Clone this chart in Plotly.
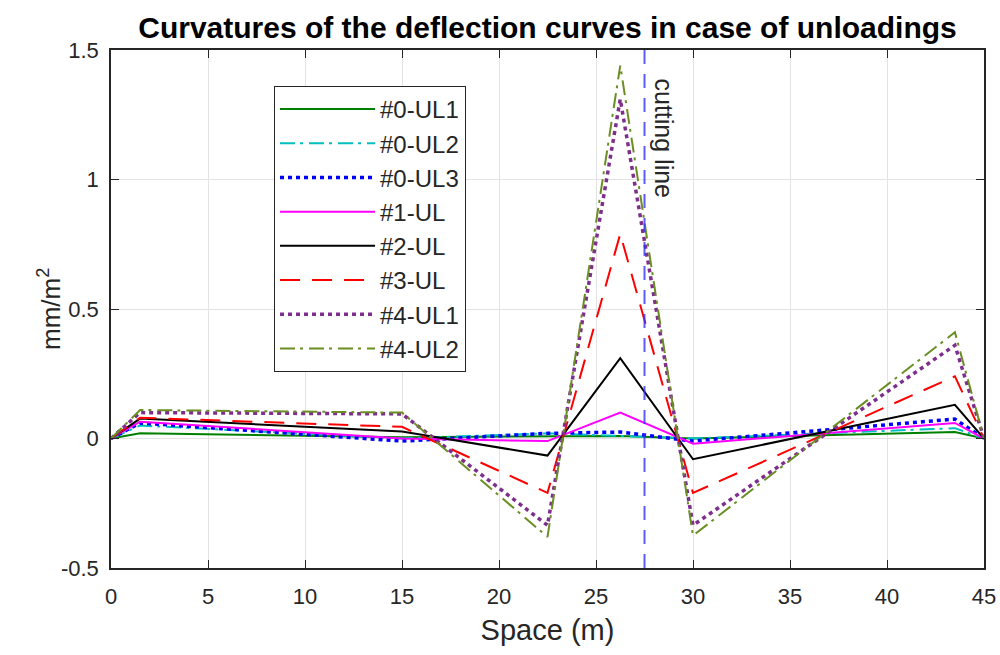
import plotly.graph_objects as go

# Positions along the span (m)
space = [0, 1.5, 15, 22.5, 26.25, 30, 43.5, 45]

# Curvatures (mm/m^2) for each unloading case
ul0_1 = [0, 0.02, 0.005, 0.01, 0.01, 0.0, 0.025, 0]
ul0_2 = [0, 0.05, 0.0, 0.02, 0.01, 0.0, 0.04, 0]
ul0_3 = [0, 0.06, -0.01, 0.02, 0.025, -0.01, 0.075, 0]
ul1 = [0, 0.065, 0.0, -0.01, 0.1, -0.02, 0.06, 0]
ul2 = [0, 0.077, 0.027, -0.066, 0.31, -0.08, 0.13, 0]
ul3 = [0, 0.08, 0.045, -0.21, 0.79, -0.21, 0.24, 0]
ul4_1 = [0, 0.1, 0.095, -0.335, 1.31, -0.335, 0.36, 0]
ul4_2 = [0, 0.11, 0.1, -0.38, 1.44, -0.375, 0.41, 0]

cut_x = 27.5

x_ticks = [0, 5, 10, 15, 20, 25, 30, 35, 40, 45]
y_ticks = [-0.5, 0, 0.5, 1, 1.5]
y_tick_text = ["-0.5", "0", "0.5", "1", "1.5"]

FONT = "Liberation Sans, Arial"
INK = "#262626"

series = [
    ("#0-UL1", ul0_1, "#008000", "solid", 2),
    ("#0-UL2", ul0_2, "#00bfbf", "15px,5px,3px,6px", 2),
    ("#0-UL3", ul0_3, "#0000ff", "4px,4px", 3.5),
    ("#1-UL", ul1, "#ff00ff", "solid", 2),
    ("#2-UL", ul2, "#000000", "solid", 2),
    ("#3-UL", ul3, "#ff0000", "20px,12px", 2),
    ("#4-UL1", ul4_1, "#7e2f8e", "4px,4px", 3.5),
    ("#4-UL2", ul4_2, "#6b8e23", "15px,5px,3px,6px", 2),
]

fig = go.Figure()
for name, vals, color, dash, width in series:
    fig.add_trace(go.Scatter(
        x=space, y=vals, mode="lines", name=name, legendgroup=name,
        line=dict(color=color, dash=dash, width=width),
    ))

# Vertical cutting line
fig.add_shape(type="line", x0=cut_x, x1=cut_x, y0=-0.5, y1=1.5,
              xref="x", yref="y",
              line=dict(color="rgba(50,50,255,0.8)", width=2, dash="14px,10px"))
fig.add_annotation(x=cut_x, y=1.5, xref="x", yref="y", text="cutting line",
                   textangle=90, showarrow=False, xanchor="left", yanchor="top",
                   xshift=3, yshift=-26,
                   font=dict(family=FONT, size=25, color=INK))

# Y-axis title placed close to the tick labels
fig.add_annotation(x=-0.071, y=0.5, xref="paper", yref="paper",
                   text="mm/m<sup>2</sup>", textangle=-90, showarrow=False,
                   xanchor="center", yanchor="middle",
                   font=dict(family=FONT, size=26, color=INK))

axis_common = dict(
    showgrid=True, gridcolor="#e3e3e3", gridwidth=1,
    showline=True, linecolor=INK, linewidth=1.5, mirror="ticks",
    ticks="inside", ticklen=8, tickwidth=1.2, tickcolor=INK,
    zeroline=False, automargin=False,
    tickfont=dict(family=FONT, size=22, color=INK),
)

fig.update_xaxes(range=[0, 45], tickvals=x_ticks, ticklabelstandoff=8, **axis_common,
                 title=dict(text="Space (m)", standoff=12,
                            font=dict(family=FONT, size=29, color=INK)))
fig.update_yaxes(range=[-0.5, 1.5], tickvals=y_ticks, ticktext=y_tick_text,
                 ticklabelstandoff=6, **axis_common)

fig.update_layout(
    width=1000, height=655,
    margin=dict(l=111, r=16, t=50, b=87),
    paper_bgcolor="white", plot_bgcolor="white",
    title=dict(text="<b>Curvatures of the deflection curves in case of unloadings</b>",
               x=0.5475, xanchor="center", xref="container",
               y=0.958, yanchor="middle", yref="container",
               font=dict(family=FONT, size=30, color="#000000")),
    legend=dict(x=0.1865, y=0.931, xanchor="left", yanchor="top",
                bgcolor="white", bordercolor=INK, borderwidth=1.2,
                font=dict(family=FONT, size=24, color=INK),
                itemwidth=95, tracegroupgap=2, traceorder="normal"),
    showlegend=True,
)

fig.write_html("out.html")
